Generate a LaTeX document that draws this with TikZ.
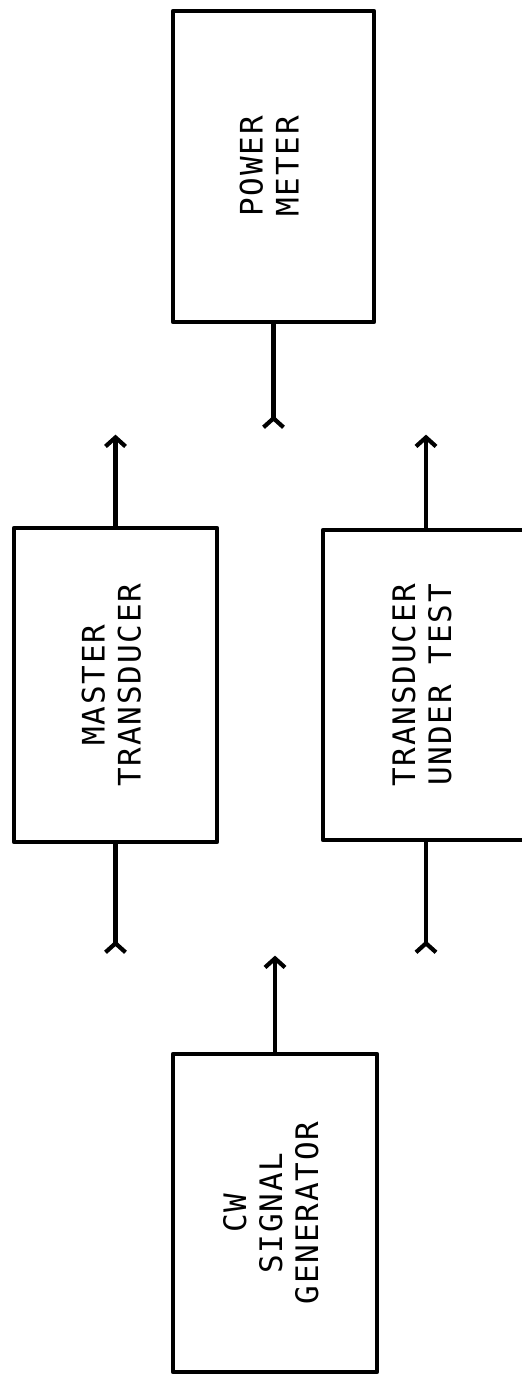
\documentclass[tikz,border=0pt]{standalone}
\usepackage{fontspec}
\setmonofont{DejaVu Sans Mono}[LetterSpace=6]
\usetikzlibrary{arrows.meta,positioning}

\newcommand{\vtext}[1]{\rotatebox{90}{\begin{tabular}{@{}c@{}}#1\end{tabular}}}

\begin{document}
\begin{tikzpicture}[x=1pt,y=-1pt,on grid,line width=4.2pt,
  >={Straight Barb[length=9pt,width=20pt]},
  socket/.style={-{Straight Barb[length=9pt,width=20pt,reversed]}},
  block/.style={draw,line width=4.8pt,line join=round,minimum width=203pt,minimum height=314pt,
    inner sep=0pt,font=\ttfamily\fontsize{31}{36}\selectfont}]
  \clip (0,0) rectangle (522,1376);

  \node[block] (pm) at (273.5,166.5) [minimum width=201pt,minimum height=311pt] {\vtext{POWER\\METER}};
  \node[block] (mt) [below left=518.5pt and 158pt of pm] {\vtext{MASTER\\TRANSDUCER}};
  \node[block] (tut) [right=310.5pt of mt,minimum width=206pt,minimum height=310pt] {\vtext{TRANSDUCER\\UNDER TEST}};
  \node[block] (cw) [below right=528pt and 159.5pt of mt,minimum width=204pt,minimum height=318pt] {\vtext{CW\\SIGNAL\\GENERATOR}};

  % free ends of the leads
  \coordinate[below=105pt of pm.south] (pmin);
  \coordinate[above=91pt of mt.north] (mtout);
  \coordinate[above=93pt of tut.north] (tutout);
  \coordinate[below=110pt of mt.south] (mtin);
  \coordinate[below=112pt of tut.south] (tutin);
  \coordinate[above=96pt of cw.north] (cwout);

  \path[->]
  (mt) edge (mtout)
  (tut) edge (tutout)
  (cw) edge (cwout);

  \path[socket]
  (pm) edge (pmin)
  (mt) edge (mtin)
  (tut) edge (tutin);
\end{tikzpicture}
\end{document}
